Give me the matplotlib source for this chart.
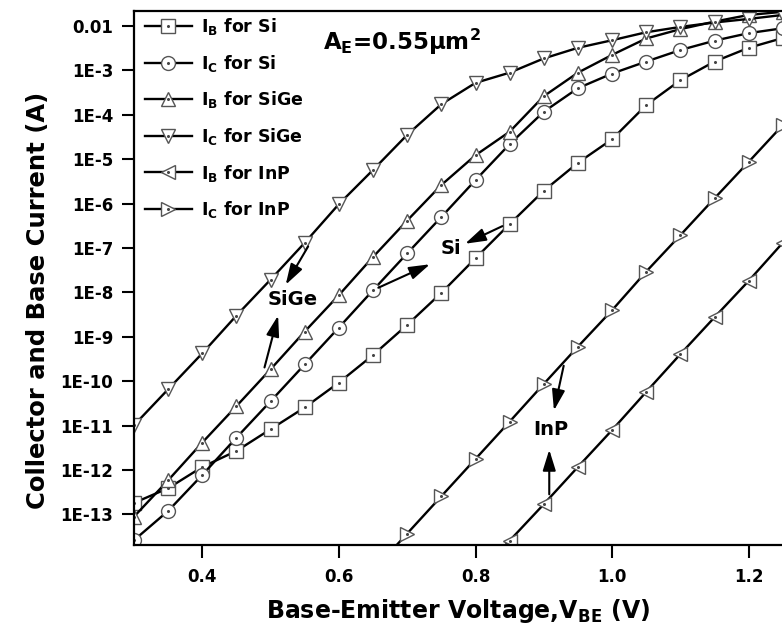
import matplotlib
matplotlib.use("Agg")
import matplotlib.pyplot as plt
import numpy as np

plt.rcParams["font.family"] = ["DejaVu Sans"]
plt.rcParams["font.weight"] = "bold"
plt.rcParams["axes.labelweight"] = "bold"
plt.rcParams["mathtext.fontset"] = "custom"
plt.rcParams["mathtext.rm"] = "DejaVu Sans:bold"
plt.rcParams["mathtext.it"] = "DejaVu Sans:bold"
plt.rcParams["mathtext.bf"] = "DejaVu Sans:bold"

# base-emitter voltage (V)
vbe = [0.30, 0.35, 0.40, 0.45, 0.50, 0.55, 0.60, 0.65, 0.70, 0.75,
       0.80, 0.85, 0.90, 0.95, 1.00, 1.05, 1.10, 1.15, 1.20, 1.25]
vbe_ic_inp = [0.65, 0.70, 0.75, 0.80, 0.85, 0.90, 0.95, 1.00, 1.05,
              1.10, 1.15, 1.20, 1.25]
vbe_ib_inp = [0.80, 0.85, 0.90, 0.95, 1.00, 1.05, 1.10, 1.15, 1.20, 1.25]

# log10 of current (A)
ib_si = [-12.74, -12.41, -11.93, -11.57, -11.08, -10.59, -10.03, -9.41, -8.73, -8.01,
         -7.23, -6.46, -5.71, -5.08, -4.55, -3.78, -3.22, -2.80, -2.49, -2.27]
ic_si = [-13.58, -12.92, -12.11, -11.27, -10.45, -9.62, -8.79, -7.95, -7.12, -6.30,
         -5.47, -4.66, -3.93, -3.40, -3.07, -2.80, -2.54, -2.33, -2.16, -2.05]
ib_sige = [-13.05, -12.23, -11.38, -10.56, -9.73, -8.88, -8.06, -7.20, -6.38, -5.58,
           -4.91, -4.38, -3.58, -3.05, -2.65, -2.28, -2.07, -1.90, -1.75, -1.68]
ic_sige = [-10.99, -10.18, -9.37, -8.52, -7.71, -6.88, -6.01, -5.24, -4.45, -3.76,
           -3.28, -3.05, -2.73, -2.49, -2.32, -2.14, -2.02, -1.92, -1.84, -1.75]
ic_inp = [-14.27, -13.43, -12.59, -11.75, -10.91, -10.06, -9.22, -8.40, -7.53,
          -6.71, -5.88, -5.06, -4.23]
ib_inp = [-14.42, -13.59, -12.77, -11.93, -11.10, -10.24, -9.39, -8.56, -7.74, -6.88]

series = [
    (vbe, ib_si, "s", "I$_B$ for Si"),
    (vbe, ic_si, "o", "I$_C$ for Si"),
    (vbe, ib_sige, "^", "I$_B$ for SiGe"),
    (vbe, ic_sige, "v", "I$_C$ for SiGe"),
    (vbe_ib_inp, ib_inp, "<", "I$_B$ for InP"),
    (vbe_ic_inp, ic_inp, ">", "I$_C$ for InP"),
]

ytick_vals = [1e-2, 1e-3, 1e-4, 1e-5, 1e-6, 1e-7, 1e-8, 1e-9, 1e-10, 1e-11, 1e-12, 1e-13]
ytick_labels = ["0.01", "1E-3", "1E-4", "1E-5", "1E-6", "1E-7", "1E-8", "1E-9",
                "1E-10", "1E-11", "1E-12", "1E-13"]
xtick_vals = [0.4, 0.6, 0.8, 1.0, 1.2]

fig = plt.figure(figsize=(7.82, 6.29), dpi=100)
ax = fig.add_axes([0.1714, 0.1343, 0.8286, 0.8482])

handles = []
labels = []
for x, logy, mk, lab in series:
    y = 10.0 ** np.array(logy)
    ln, = ax.plot(x, y, color="black", lw=1.7, marker=mk, ms=10,
                  mfc="white", mec="#555555", mew=1.0)
    dot, = ax.plot(x, y, ls="none", marker="o", ms=1.2, color="#444444")
    handles.append((ln, dot))
    labels.append(lab)

ax.set_yscale("log")
ax.set_xlim(0.3, 1.2488)
ax.set_ylim(2.1e-14, 2.18e-2)
ax.set_yticks(ytick_vals)
ax.set_yticklabels(ytick_labels)
ax.minorticks_off()
ax.set_xticks(xtick_vals)
ax.set_xticklabels(["0.4", "0.6", "0.8", "1.0", "1.2"])
ax.tick_params(direction="out", length=9, width=1.5, labelsize=12, pad=6)
ax.tick_params(axis="x", pad=8)

for side in ["left", "bottom", "top"]:
    ax.spines[side].set_linewidth(1.6)
ax.spines["right"].set_visible(False)

ax.set_xlabel("Base-Emitter Voltage,V$_{BE}$ (V)", fontsize=17, labelpad=8)
ax.set_ylabel("Collector and Base Current (A)", fontsize=17.5)
ax.yaxis.set_label_coords(-0.13, 0.458)

ax.legend(handles, labels, loc="upper left", bbox_to_anchor=(0.017, 0.9905),
          frameon=False, fontsize=12.5, handlelength=2.7, handletextpad=0.5,
          labelspacing=0.9, borderaxespad=0, borderpad=0)

ax.text(0.576, 10 ** -2.54, "A$_E$=0.55$\\mu$m$^2$", fontsize=16.5, va="baseline")

arrow = dict(arrowstyle="-|>,head_length=0.9,head_width=0.28", color="black",
             lw=1.5, mutation_scale=14)
ax.text(0.5326, 10 ** -8.15, "SiGe", fontsize=14, ha="center", va="center")
ax.annotate("", xy=(0.520, 10 ** -7.88), xytext=(0.557, 10 ** -6.91), arrowprops=arrow)
ax.annotate("", xy=(0.512, 10 ** -8.46), xytext=(0.490, 10 ** -9.75), arrowprops=arrow)

ax.text(0.7636, 10 ** -7.02, "Si", fontsize=14, ha="center", va="center")
ax.annotate("", xy=(0.737, 10 ** -7.34), xytext=(0.654, 10 ** -7.92), arrowprops=arrow)
ax.annotate("", xy=(0.781, 10 ** -6.93), xytext=(0.843, 10 ** -6.48), arrowprops=arrow)

ax.text(0.910, 10 ** -11.08, "InP", fontsize=14, ha="center", va="center")
ax.annotate("", xy=(0.914, 10 ** -10.72), xytext=(0.930, 10 ** -9.59), arrowprops=arrow)
ax.annotate("", xy=(0.908, 10 ** -11.48), xytext=(0.908, 10 ** -12.61), arrowprops=arrow)

fig.savefig("out.png", dpi=100)
